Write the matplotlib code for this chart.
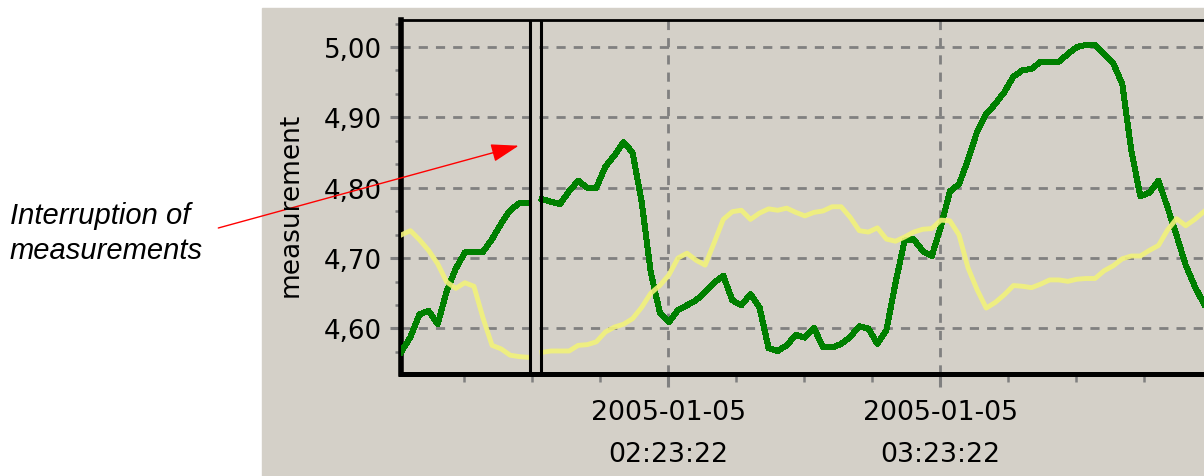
import pandas as pd
import matplotlib
matplotlib.use("Agg")
import matplotlib.pyplot as plt
import matplotlib.dates as mdates
from matplotlib.ticker import FuncFormatter, MultipleLocator, FixedLocator
from matplotlib.patches import Rectangle

# readings every 2 minutes, before and after the interruption
green_before = [4.567, 4.588, 4.620, 4.625, 4.606, 4.653, 4.685, 4.708,
                4.708, 4.709, 4.727, 4.749, 4.768, 4.778, 4.778]
yellow_before = [4.733, 4.739, 4.726, 4.711, 4.692, 4.666, 4.657, 4.665,
                 4.660, 4.615, 4.576, 4.571, 4.562, 4.560, 4.559]

green_after = [4.784, 4.780, 4.777, 4.795, 4.810, 4.800, 4.800, 4.830,
               4.846, 4.865, 4.850, 4.780, 4.680, 4.623, 4.609, 4.626,
               4.633, 4.640, 4.652, 4.665, 4.675, 4.640, 4.633, 4.649,
               4.630, 4.572, 4.568, 4.576, 4.591, 4.587, 4.601, 4.573,
               4.573, 4.578, 4.588, 4.603, 4.600, 4.578, 4.598, 4.665,
               4.725, 4.727, 4.710, 4.703, 4.745, 4.795, 4.805, 4.840,
               4.880, 4.905, 4.919, 4.936, 4.958, 4.967, 4.969, 4.979,
               4.979, 4.979, 4.990, 5.000, 5.003, 5.003, 4.990, 4.977,
               4.948, 4.853, 4.788, 4.793, 4.810, 4.772, 4.732, 4.690,
               4.660, 4.635]
yellow_after = [4.566, 4.568, 4.568, 4.568, 4.576, 4.577, 4.581, 4.595,
                4.602, 4.606, 4.614, 4.630, 4.650, 4.661, 4.676, 4.700,
                4.707, 4.697, 4.690, 4.722, 4.755, 4.766, 4.768, 4.755,
                4.764, 4.770, 4.768, 4.771, 4.765, 4.760, 4.765, 4.767,
                4.773, 4.773, 4.758, 4.739, 4.737, 4.743, 4.727, 4.724,
                4.730, 4.737, 4.741, 4.742, 4.754, 4.753, 4.733, 4.686,
                4.655, 4.629, 4.637, 4.648, 4.661, 4.660, 4.658, 4.663,
                4.669, 4.669, 4.667, 4.670, 4.671, 4.671, 4.682, 4.689,
                4.699, 4.703, 4.703, 4.711, 4.718, 4.740, 4.756, 4.746,
                4.755, 4.766]

t_before = pd.date_range("2005-01-05 01:24:30", periods=len(green_before), freq="2min")
t_after = pd.date_range("2005-01-05 01:55:30", periods=len(green_after), freq="2min")
gap = pd.to_datetime(["2005-01-05 01:52:55", "2005-01-05 01:55:20"])

x_range = pd.to_datetime(["2005-01-05 01:24:25", "2005-01-05 04:23:58"])
y_range = (4.536, 5.038)
major_times = pd.date_range("2005-01-05 02:23:22", periods=2, freq="1h")
minor_times = pd.date_range("2005-01-05 01:38:22", "2005-01-05 04:23:22", freq="15min")

W, H = 1204, 477
panel = "#d4d0c8"
grid_grey = "#808080"

fig = plt.figure(figsize=(W / 100, H / 100), dpi=100, facecolor="white")
fig.patches.append(Rectangle((262 / W, 0), (W - 262) / W, (H - 9) / H,
                             transform=fig.transFigure, color=panel, zorder=-5))

ax = fig.add_axes([401 / W, 102.5 / H, (1215 - 401) / W, 353.2 / H])
ax.set_facecolor(panel)

for t, g, yv in [(t_before, green_before, yellow_before),
                 (t_after, green_after, yellow_after)]:
    ax.plot(t, g, color="#008000", lw=3.6, antialiased=False, zorder=3)
    ax.plot(t, yv, color="#f2f27a", lw=3.5, alpha=0.9, zorder=4)

for g in gap:
    ax.axvline(g, color="black", lw=2.2, zorder=5)

ax.set_xlim(x_range[0], x_range[1])
ax.set_ylim(*y_range)

ax.yaxis.set_major_locator(MultipleLocator(0.1))
ax.yaxis.set_minor_locator(MultipleLocator(0.1 / 3))
ax.yaxis.set_major_formatter(FuncFormatter(lambda v, p: f"{v:.2f}".replace(".", ",")))

ax.xaxis.set_major_locator(FixedLocator(mdates.date2num(major_times)))
ax.xaxis.set_minor_locator(FixedLocator(mdates.date2num(minor_times)))
ax.xaxis.set_major_formatter(mdates.DateFormatter("%Y-%m-%d\n%H:%M:%S"))

ax.grid(which="major", color=grid_grey, lw=2.0, linestyle=(0, (3.3, 2.9)))
ax.set_axisbelow(True)

ax.tick_params(axis="y", which="major", length=8, width=2.2, color=grid_grey,
               pad=5.5, labelsize=18.8)
ax.tick_params(axis="y", which="minor", length=4.3, width=1.8, color=grid_grey)
ax.tick_params(axis="x", which="major", length=9.7, width=2.2, color=grid_grey,
               pad=9, labelsize=19.3)
ax.tick_params(axis="x", which="minor", length=6.1, width=1.8, color=grid_grey)
for lab in ax.get_xticklabels():
    lab.set_linespacing(1.8)

ax.spines["left"].set_linewidth(4)
ax.spines["bottom"].set_linewidth(3.6)
ax.spines["top"].set_linewidth(2)
ax.spines["right"].set_visible(False)

fig.text(291 / W, (H - 205) / H, "measurement", rotation=90,
         ha="center", va="center", fontsize=19)

fig.text(10 / W, (H - 202) / H, "Interruption of\nmeasurements",
         family="Liberation Sans", style="italic", fontsize=21,
         ha="left", va="top", linespacing=1.31)

ax.annotate("", xy=(518.7, H - 146.7), xycoords="figure pixels",
            xytext=(218.3, H - 229), textcoords="figure pixels",
            arrowprops=dict(arrowstyle="-|>,head_length=1.72,head_width=0.56",
                            mutation_scale=10, color="red", lw=1,
                            shrinkA=0, shrinkB=0))

fig.savefig("out.png", dpi=100)
